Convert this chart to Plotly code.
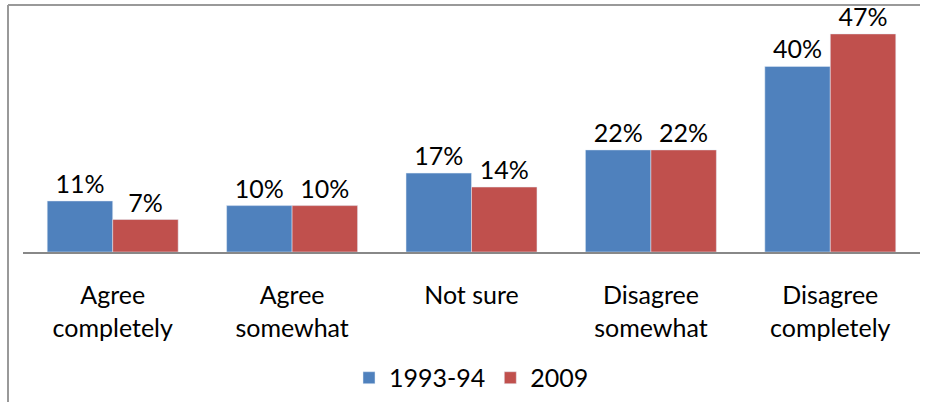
import plotly.graph_objects as go

categories = ["Agree<br>completely", "Agree<br>somewhat", "Not sure",
              "Disagree<br>somewhat", "Disagree<br>completely"]
vals_1993 = [11, 10, 17, 22, 40]
vals_2009 = [7, 10, 14, 22, 47]
series_names = ["1993-94", "2009"]

FONT = "Lato, Carlito, Calibri, sans-serif"

fig = go.Figure()
fig.add_trace(go.Bar(x=categories, y=vals_1993, name=series_names[0],
                     marker_color="#4F81BD",
                     text=[f"{v}%" for v in vals_1993], textposition="outside",
                     textfont=dict(size=25, color="#000")))
fig.add_trace(go.Bar(x=categories, y=vals_2009, name=series_names[1],
                     marker_color="#C0504D",
                     text=[f"{v}%" for v in vals_2009], textposition="outside",
                     textfont=dict(size=25, color="#000")))

fig.update_layout(
    width=927, height=402,
    margin=dict(l=23, r=7, t=20, b=150, autoexpand=False),
    barmode="group", bargap=0.27, bargroupgap=0,
    plot_bgcolor="white", paper_bgcolor="white",
    font=dict(family=FONT, size=25, color="#000"),
    showlegend=True,
    legend=dict(orientation="h", x=0.5, xanchor="center", y=-0.543, yanchor="middle",
                font=dict(size=25), itemwidth=30, traceorder="normal"),
    xaxis=dict(showline=True, linecolor="#888888", linewidth=2, ticks="",
               ticklabelstandoff=20, tickfont=dict(size=25), automargin=False),
    yaxis=dict(range=[0, 50], visible=False, showgrid=False, automargin=False),
)

# chart frame (left and top edges visible)
fig.add_shape(type="line", xref="paper", yref="paper",
              x0=-15/897, x1=1.0, y0=(252-5)/232, y1=(252-5)/232,
              line=dict(color="#999999", width=2))
fig.add_shape(type="line", xref="paper", yref="paper",
              x0=-15/897, x1=-15/897, y0=(252-5)/232, y1=-1.0,
              line=dict(color="#999999", width=2))

fig.update_traces(cliponaxis=False, constraintext="none")
# drop the default page margin so the figure sits at the window's corner
fig.write_html("out.html", config={"displayModeBar": False},
               post_script="document.body.style.margin='0';")
